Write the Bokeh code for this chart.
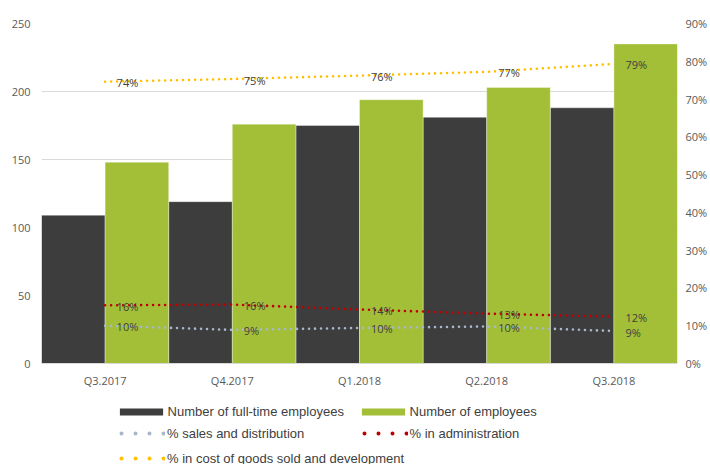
from bokeh.plotting import figure
from bokeh.layouts import column
from bokeh.models import (ColumnDataSource, FactorRange, Range1d, LinearAxis, FixedTicker,
                          PrintfTickFormatter, Legend, LegendItem)
from bokeh.transform import dodge
from bokeh.core.properties import value
from bokeh.embed import file_html
from bokeh.resources import INLINE

quarters = ["Q3.2017", "Q4.2017", "Q1.2018", "Q2.2018", "Q3.2018"]
fulltime = [109, 119, 175, 181, 188]
employees = [148, 176, 194, 203, 235]
pct_sales = [10.0, 8.9, 9.4, 9.8, 8.6]
pct_admin = [15.4, 15.6, 14.3, 13.2, 12.4]
pct_cost = [74.6, 75.3, 76.2, 77.2, 79.3]
lbl_sales = ["10%", "9%", "10%", "10%", "9%"]
lbl_admin = ["16%", "16%", "14%", "13%", "12%"]
lbl_cost = ["74%", "75%", "76%", "77%", "79%"]
left_ticks = [0, 50, 100, 150, 200, 250]
right_ticks = [0, 10, 20, 30, 40, 50, 60, 70, 80, 90]

DARK = "#3d3d3d"
GREEN = "#a3bf38"
SALES = "#a8b7cb"
ADMIN = "#c00000"
COST = "#ffc000"
TXT = "#595959"
FONT = "Open Sans"
W = 710

src = ColumnDataSource(dict(q=quarters, fulltime=fulltime, employees=employees,
                            pct_sales=pct_sales, pct_admin=pct_admin, pct_cost=pct_cost,
                            lbl_sales=lbl_sales, lbl_admin=lbl_admin, lbl_cost=lbl_cost))

p = figure(x_range=FactorRange(factors=quarters, range_padding=0), y_range=Range1d(0, 250),
           width=W, height=400, output_backend="svg", toolbar_location=None,
           min_border_left=41, min_border_right=30, min_border_top=23, min_border_bottom=37)
p.extra_y_ranges = {"pct": Range1d(0, 90)}
p.outline_line_color = None
p.background_fill_color = "white"
p.border_fill_color = "white"

p.xgrid.grid_line_color = None
p.ygrid.ticker = FixedTicker(ticks=left_ticks)
p.ygrid.grid_line_color = "#d9d9d9"
p.ygrid.grid_line_width = 1


def style_axis(ax, standoff):
    ax.axis_line_color = None
    ax.major_tick_line_color = None
    ax.minor_tick_line_color = None
    ax.major_tick_out = 0
    ax.major_tick_in = 0
    ax.minor_tick_out = 0
    ax.major_label_standoff = standoff
    ax.major_label_text_font = FONT
    ax.major_label_text_font_size = "11px"
    ax.major_label_text_color = TXT


ya = p.yaxis[0]
ya.ticker = FixedTicker(ticks=left_ticks)
style_axis(ya, 11)

xa = p.xaxis[0]
style_axis(xa, 9)
xa.axis_line_color = "#d9d9d9"

ra = LinearAxis(y_range_name="pct", ticker=FixedTicker(ticks=right_ticks),
                formatter=PrintfTickFormatter(format="%d%%"))
style_axis(ra, 8)
p.add_layout(ra, "right")

r_dark = p.vbar(x=dodge("q", -0.25, range=p.x_range), top="fulltime", width=0.5, source=src,
                fill_color=DARK, line_color="white", line_alpha=0.35, line_width=1)
r_green = p.vbar(x=dodge("q", 0.25, range=p.x_range), top="employees", width=0.5, source=src,
                 fill_color=GREEN, line_color="white", line_alpha=0.35, line_width=1)

for col, color in (("pct_cost", COST), ("pct_admin", ADMIN), ("pct_sales", SALES)):
    p.line(x="q", y=col, source=src, y_range_name="pct", line_color=color,
           line_width=2.6, line_dash="0 6", line_cap="round")

for col, lbl in (("pct_cost", "lbl_cost"), ("pct_admin", "lbl_admin"), ("pct_sales", "lbl_sales")):
    p.text(x="q", y=col, text=lbl, source=src, y_range_name="pct", x_offset=11.5, y_offset=1,
           text_align="left", text_baseline="middle", text_font=value(FONT),
           text_font_size="11px", text_color="#404040")

# ---- legend strip (separate figure so nothing is clipped; its frame aligns with the chart's) ----
q = figure(width=W, height=64, output_backend="svg", toolbar_location=None,
           x_range=Range1d(0, 1), y_range=Range1d(0, 1),
           x_axis_location=None, y_axis_location=None,
           min_border_left=0, min_border_right=0, min_border_top=0, min_border_bottom=0)
q.outline_line_color = None
q.xgrid.visible = False
q.ygrid.visible = False
q.background_fill_color = "white"
q.border_fill_color = "white"

# legend-only swatch renderers, placed far outside the visible range
lg_dark = q.vbar(x=[-50.0], top=[-50.0], bottom=[-60.0], width=0.5, fill_color=DARK, line_color=None)
lg_green = q.vbar(x=[-50.0], top=[-50.0], bottom=[-60.0], width=0.5, fill_color=GREEN, line_color=None)
dot_kw = dict(line_width=4, line_dash="0 14", line_dash_offset=12, line_cap="round")
lg_sales = q.line(x=[-50, -49], y=[-50, -50], line_color=SALES, **dot_kw)
lg_admin = q.line(x=[-50, -49], y=[-50, -50], line_color=ADMIN, **dot_kw)
lg_cost = q.line(x=[-50, -49], y=[-50, -50], line_color=COST, **dot_kw)


def make_legend(items, loc, gw, gh, standoff, spacing=9):
    lg = Legend(items=items, location=loc, glyph_width=gw, glyph_height=gh,
                label_height=16, label_standoff=standoff, spacing=spacing,
                padding=0, margin=0, border_line_color=None, background_fill_alpha=0,
                label_text_font="Liberation Sans", label_text_font_size="13px",
                label_text_color="#404040")
    q.add_layout(lg)
    return lg


FL = 41  # frame left offset
make_legend([LegendItem(label="Number of full-time employees", renderers=[lg_dark])],
            (113.6 - FL, 45), 54, 9, 0)
make_legend([LegendItem(label="Number of employees", renderers=[lg_green])],
            (355.6 - FL, 45), 54, 9, 0)
make_legend([LegendItem(label="% sales and distribution", renderers=[lg_sales]),
             LegendItem(label="% in cost of goods sold and development", renderers=[lg_cost])],
            (119 - FL, -2), 46, 16, 2)
make_legend([LegendItem(label="% in administration", renderers=[lg_admin])],
            (361.5 - FL, 23), 46, 16, 2)

layout = column(p, q, spacing=0)
open("out.html", "w").write(file_html(layout, INLINE))
